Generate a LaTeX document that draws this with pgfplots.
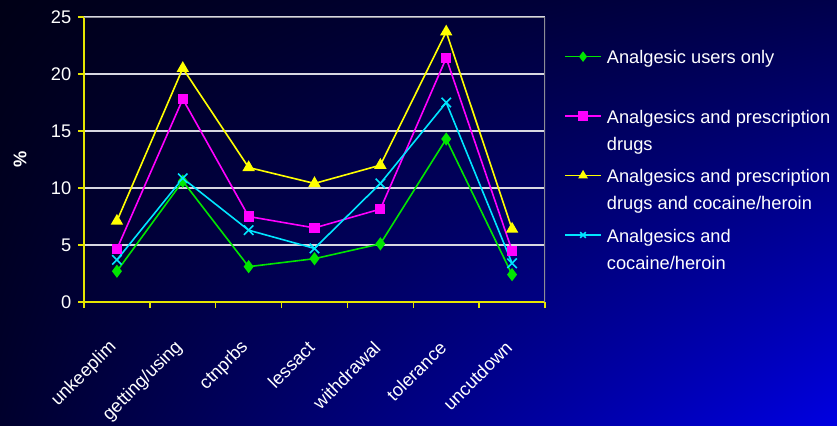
\documentclass[border=0pt]{standalone}
\usepackage{fontspec}
\setmainfont{Liberation Sans}
\usepackage{pgfplots}
\pgfplotsset{compat=1.18}
\usetikzlibrary{shadings,calc}
\pgfdeclarelayer{background}
\pgfsetlayers{background,main}
\definecolor{bgUL}{RGB}{0,0,22}
\definecolor{bgUR}{RGB}{0,0,75}
\definecolor{bgLL}{RGB}{0,0,45}
\definecolor{bgLR}{RGB}{0,0,225}
\definecolor{gridc}{RGB}{215,215,225}
\definecolor{framec}{RGB}{140,140,150}
\definecolor{sgreen}{RGB}{0,230,0}
\definecolor{smag}{RGB}{255,0,255}
\definecolor{syel}{RGB}{255,255,0}
\definecolor{scyan}{RGB}{0,230,255}
\definecolor{axyel}{RGB}{230,230,0}
\newcommand{\lfont}{\fontsize{13.7}{20.25}\selectfont}
\newcommand{\lent}[1]{\raisebox{-1.15pt}[10pt][10pt]{\parbox[t]{170pt}{\raggedright #1}}}
\begin{document}
\begin{tikzpicture}
\begin{axis}[
  scale only axis, width=345.75pt, height=213.75pt,
  xmin=-0.5, xmax=6.5, ymin=0, ymax=25,
  ytick={0,5,...,25},
  xtick={0,...,6},
  xticklabels={unkeeplim,getting/using,ctnprbs,lessact,withdrawal,tolerance,uncutdown},
  axis x line*=bottom, axis y line*=left,
  axis line style={axyel, line width=1.1pt},
  tick align=outside,
  major tick length=4.5pt,
  ytick style={axyel, line width=1pt},
  xtick style={draw=none},
  extra x ticks={-0.5,0.5,1.5,2.5,3.5,4.5,5.5,6.5},
  extra x tick labels={},
  extra x tick style={grid=none, xtick style={draw=axyel, line width=1pt}},
  ymajorgrids,
  grid style={gridc, line width=0.9pt},
  /pgf/number format/assume math mode=true,
  tick label style={font=\lfont, text=white},
  yticklabel style={xshift=-1.5pt},
  xticklabel style={anchor=east, yshift=-25pt, xshift=0pt, rotate=45},
  ylabel={\textbf{\%}},
  every axis y label/.style={at={(axis description cs:0,0.5)}, xshift=-48pt, rotate=90, anchor=center, font=\lfont, text=white},
  legend style={at={(rel axis cs:1,1)}, anchor=north west, xshift=14.25pt, yshift=-23.75pt,
    draw=none, fill=none, text=white, font=\lfont, inner sep=0pt, row sep=33.1pt, column sep=3.75pt,
    nodes={inner sep=0pt}},
  legend cell align=left,
  legend image code/.code={\draw[mark repeat=2,mark phase=2,#1,mark size=3pt] plot coordinates {(0pt,0pt) (13.5pt,0pt) (27pt,0pt)};},
  every axis plot/.append style={line width=1.2pt},
]
\coordinate (bl) at (rel axis cs:0,0);
\addplot[color=sgreen, mark=diamond*, mark size=4pt] coordinates {(0,2.7) (1,10.6) (2,3.1) (3,3.8) (4,5.1) (5,14.3) (6,2.4)};
\addlegendentry{\lent{Analgesic users only}}
\addplot[color=smag, mark=square*, mark size=3.2pt] coordinates {(0,4.65) (1,17.8) (2,7.5) (3,6.5) (4,8.15) (5,21.4) (6,4.5)};
\addlegendentry{\lent{Analgesics and prescription\\drugs}}
\addplot[color=syel, mark=triangle*, mark size=4.2pt] coordinates {(0,7.1) (1,20.5) (2,11.8) (3,10.4) (4,12.0) (5,23.7) (6,6.4)};
\addlegendentry{\lent{Analgesics and prescription\\drugs and cocaine/heroin}}
\addplot[color=scyan, mark=x, mark size=5pt] coordinates {(0,3.7) (1,10.85) (2,6.3) (3,4.7) (4,10.4) (5,17.5) (6,3.4)};
\addlegendentry{\lent{Analgesics and\\cocaine/heroin}}
\draw[framec, line width=1pt] (rel axis cs:0,1) -- (rel axis cs:1,1) -- (rel axis cs:1,0);
\end{axis}
\begin{pgfonlayer}{background}
\shade[upper left=bgUL, upper right=bgUR, lower left=bgLL, lower right=bgLR]
  ($(bl)+(-63pt,-92.25pt)$) rectangle ($(bl)+(564.75pt,226.5pt)$);
\end{pgfonlayer}
\pgfresetboundingbox
\path[use as bounding box] ($(bl)+(-63pt,-92.25pt)$) rectangle ($(bl)+(564.75pt,226.5pt)$);
\end{tikzpicture}
\end{document}
